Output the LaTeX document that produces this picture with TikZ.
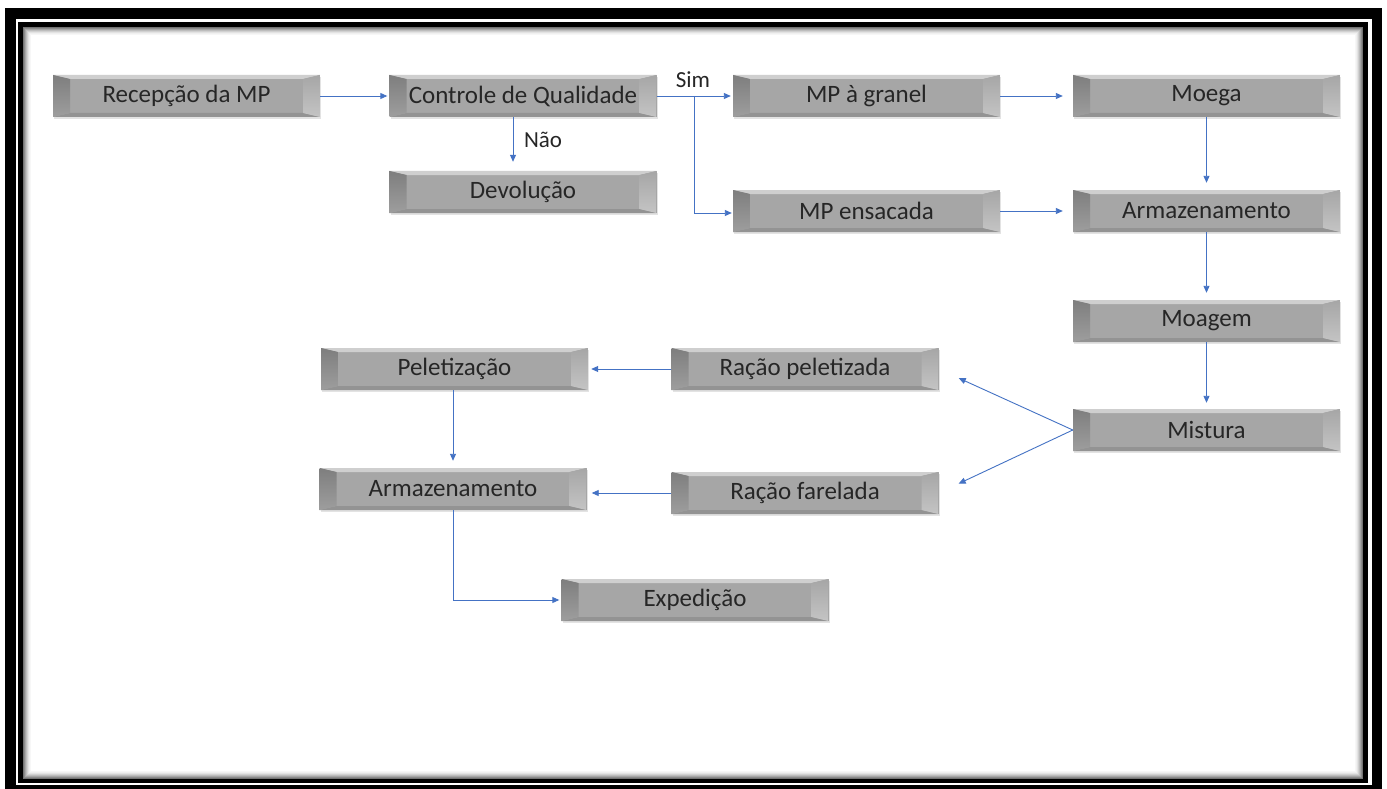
\documentclass[tikz,border=0pt]{standalone}
\usepackage{fontspec}
\setmainfont{Carlito}
\usetikzlibrary{arrows.meta,shadows}
\definecolor{face}{HTML}{A6A6A6}
\definecolor{bevtop}{HTML}{CFCFCF}
\definecolor{bevbot}{HTML}{939393}
\definecolor{bevleft}{HTML}{7E7E7E}
\definecolor{bevright}{HTML}{C4C4C4}
\definecolor{arrblue}{HTML}{4472C4}
\definecolor{txt}{HTML}{262626}
\tikzset{
  procbox/.style={rectangle, minimum width=267pt, minimum height=42pt, inner sep=0pt,
    fill=face, text=txt, font=\fontsize{25}{28}\selectfont,
    drop shadow={opacity=0.22, shadow xshift=1pt, shadow yshift=-2pt},
    path picture={
      \fill[bevtop] (path picture bounding box.north west) -- (path picture bounding box.north east)
        -- ([xshift=-17pt,yshift=-4pt]path picture bounding box.north east)
        -- ([xshift=17pt,yshift=-4pt]path picture bounding box.north west) -- cycle;
      \fill[bevbot] (path picture bounding box.south west) -- (path picture bounding box.south east)
        -- ([xshift=-17pt,yshift=4pt]path picture bounding box.south east)
        -- ([xshift=17pt,yshift=4pt]path picture bounding box.south west) -- cycle;
      \shade[top color=bevleft, bottom color=face!95!black] (path picture bounding box.north west)
        -- ([xshift=17pt,yshift=-4pt]path picture bounding box.north west)
        -- ([xshift=17pt,yshift=4pt]path picture bounding box.south west)
        -- (path picture bounding box.south west) -- cycle;
      \shade[top color=face, bottom color=bevright] (path picture bounding box.north east)
        -- ([xshift=-17pt,yshift=-4pt]path picture bounding box.north east)
        -- ([xshift=-17pt,yshift=4pt]path picture bounding box.south east)
        -- (path picture bounding box.south east) -- cycle;
    }},
  arr/.style={draw=arrblue, line width=0.9pt, -{Triangle[length=7pt,width=6pt]}, arrblue},
  lbl/.style={text=txt, font=\fontsize{23}{26}\selectfont, inner sep=0pt}
}
\begin{document}
\begin{tikzpicture}[x=1pt,y=-1pt]
\useasboundingbox (0,0) rectangle (1387,789);
% frame
\fill[white] (0,0) rectangle (1387,789);
\fill[black] (5,8) rectangle (1382,800);
\fill[white] (16,19) rectangle (1372,785);
\fill[black] (18,22) rectangle (1368,783);
\fill[white] (23,27) rectangle (1363,779);
\foreach \i/\c in {0/55,1/45,2/35,3/26,4/18,5/11,6/6,7/3}{
  \draw[black!\c, line width=1pt] (23.5+\i,27.5+\i) rectangle (1362.5-\i,778.5-\i);
}
% nodes
\node[procbox] (rec) at (186.5,96) {Recepção da MP};
\node[procbox] (cq) at (523,96) {Controle de Qualidade};
\node[procbox] (dev) at (523,192) {Devolução};
\node[procbox] (gran) at (866.5,96) {MP à granel};
\node[procbox] (moega) at (1206.5,96) {Moega};
\node[procbox] (ens) at (866.5,211) {MP ensacada};
\node[procbox] (armR) at (1206.5,211) {Armazenamento};
\node[procbox] (moag) at (1206.5,321) {Moagem};
\node[procbox] (mist) at (1206.5,430) {Mistura};
\node[procbox] (rpel) at (805,369) {Ração peletizada};
\node[procbox] (rfar) at (805,493) {Ração farelada};
\node[procbox] (pelet) at (454.5,369) {Peletização};
\node[procbox] (armL) at (453,489) {Armazenamento};
\node[procbox] (exp) at (695,600) {Expedição};
% connectors
\draw[arr, shorten >=2pt] (rec) -- (cq);
\draw[arr, shorten >=9pt] ([xshift=-10pt]cq.south) -- ([xshift=-10pt]dev.north);
\node[lbl] (nao) at (543,140) {Não};
\draw[arr, shorten >=2pt] (cq) -- (gran);
\node[lbl] (sim) at (693,80) {Sim};
\coordinate (br) at (694,96);
\draw[arr, shorten >=1pt] (br) |- ([yshift=-2pt]ens.west);
\draw[arr, shorten >=10pt] (gran) -- (moega);
\draw[arr, shorten >=7pt] (moega) -- (armR);
\draw[arr, shorten >=10pt] (ens) -- (armR);
\draw[arr, shorten >=7pt] (armR) -- (moag);
\draw[arr, shorten >=6pt] (moag) -- (mist);
\draw[arr, shorten >=22pt] (mist.west) -- (rpel.east);
\draw[arr, shorten >=22pt] (mist.west) -- (rfar.east);
\draw[arr, shorten >=3pt] (rpel) -- (pelet);
\draw[arr, shorten >=7pt] (pelet.south -| armL.north) -- (armL.north);
\draw[arr, shorten >=5pt] (rfar.west) -- (rfar.west -| armL.east);
\draw[arr, shorten >=2pt] (armL.south) |- (exp.west);
\end{tikzpicture}
\end{document}
